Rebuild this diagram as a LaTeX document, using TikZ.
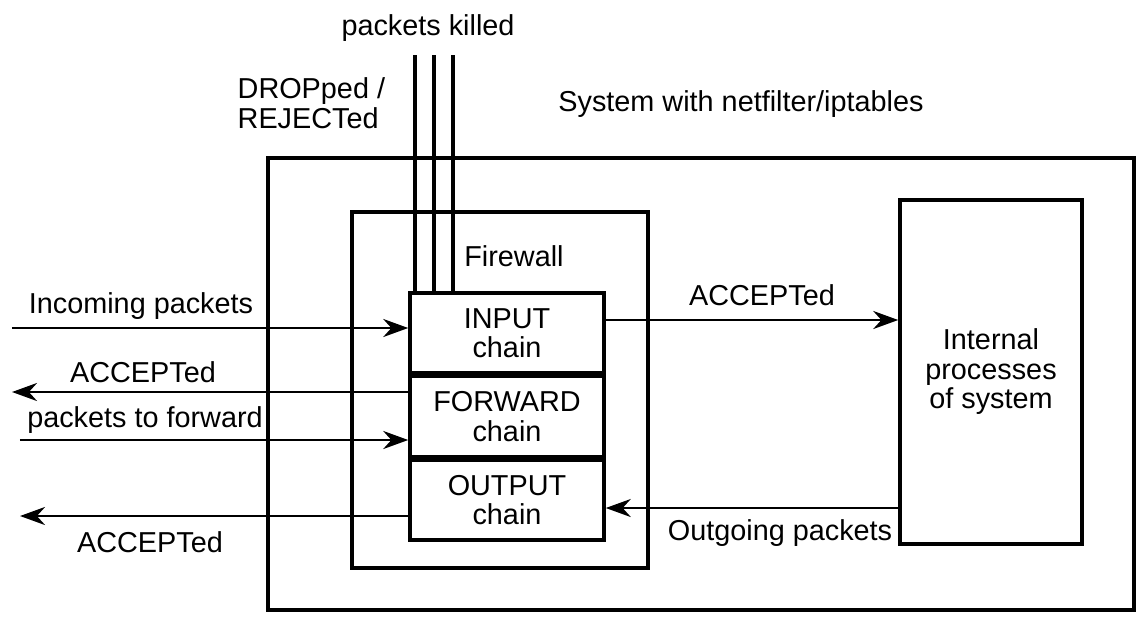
\documentclass[tikz,border=0pt]{standalone}
\usepackage{fontspec}
\setmainfont{Liberation Sans}
\usepackage{tikz}
\usetikzlibrary{arrows.meta, positioning}

\begin{document}
\begin{tikzpicture}[
    every node/.style={font=\fontsize{8.2}{8.4}\selectfont},
    frame/.style={draw, line width=1pt, inner sep=0pt},
    chainbox/.style={draw, line width=1pt, minimum width=1.94cm, minimum height=0.8cm, align=center, inner sep=0pt},
    flow/.style={-{Stealth[length=2.5mm, width=1.8mm]}, line width=0.8pt},
    killed/.style={line width=0.9pt}
  ]
  \useasboundingbox (0,0) rectangle (11.4,6.28);

  % System and firewall
  \node[frame, minimum width=8.66cm, minimum height=4.52cm] (system) at (7.01, 2.44) {};
  \node (systemlbl) at (7.41, 5.24) {System with netfilter/iptables};
  \node[frame, minimum width=2.96cm, minimum height=3.56cm] (firewall) at (5.0, 2.38) {};
  \node (firewalllbl) at (5.14, 3.72) {Firewall};

  % Chains
  \node[chainbox] (input) at (5.07, 2.95) {INPUT\\chain};
  \node[chainbox, below=0pt of input] (forward) {FORWARD\\chain};
  \node[chainbox, below=0pt of forward] (output) {OUTPUT\\chain};

  % Internal processes
  \node[frame, minimum width=1.82cm, minimum height=3.44cm, align=center] (internal) at (9.91, 2.56) {Internal\\processes\\of system};

  % Killed packets
  \coordinate (kill1) at (4.15, 5.73);
  \coordinate (kill2) at (4.34, 5.73);
  \coordinate (kill3) at (4.53, 5.73);
  \foreach \k in {kill1, kill2, kill3}
    \draw[killed] (\k) -- (\k |- input.north);
  \node (killedlbl) at (4.28, 6.00) {packets killed};
  \node[align=left, anchor=west, inner sep=0pt] (droplbl) at (2.37, 5.25) {DROPped /\\REJECTed};

  % Left side
  \coordinate (inL) at (0.12, 3.0);
  \draw[flow] (inL) -- (inL -| input.west);
  \node (inlbl) at (1.41, 3.22) {Incoming packets};

  \coordinate (accL) at (0.12, 2.36);
  \draw[flow] (accL -| forward.west) -- (accL);
  \node (acclbl) at (1.43, 2.56) {ACCEPTed};

  \coordinate (fwdL) at (0.20, 1.88);
  \draw[flow] (fwdL) -- (fwdL -| forward.west);
  \node (fwdlbl) at (1.45, 2.08) {packets to forward};

  \coordinate (outL) at (0.20, 1.12);
  \draw[flow] (outL -| output.west) -- (outL);
  \node (outlbl) at (1.50, 0.86) {ACCEPTed};

  % Right side
  \coordinate (toproc) at (7.0, 3.08);
  \draw[flow] (toproc -| input.east) -- (toproc -| internal.west);
  \node (toproclbl) at (7.62, 3.33) {ACCEPTed};

  \coordinate (fromproc) at (7.0, 1.20);
  \draw[flow] (fromproc -| internal.west) -- (fromproc -| output.east);
  \node (fromproclbl) at (7.80, 0.95) {Outgoing packets};
\end{tikzpicture}
\end{document}
